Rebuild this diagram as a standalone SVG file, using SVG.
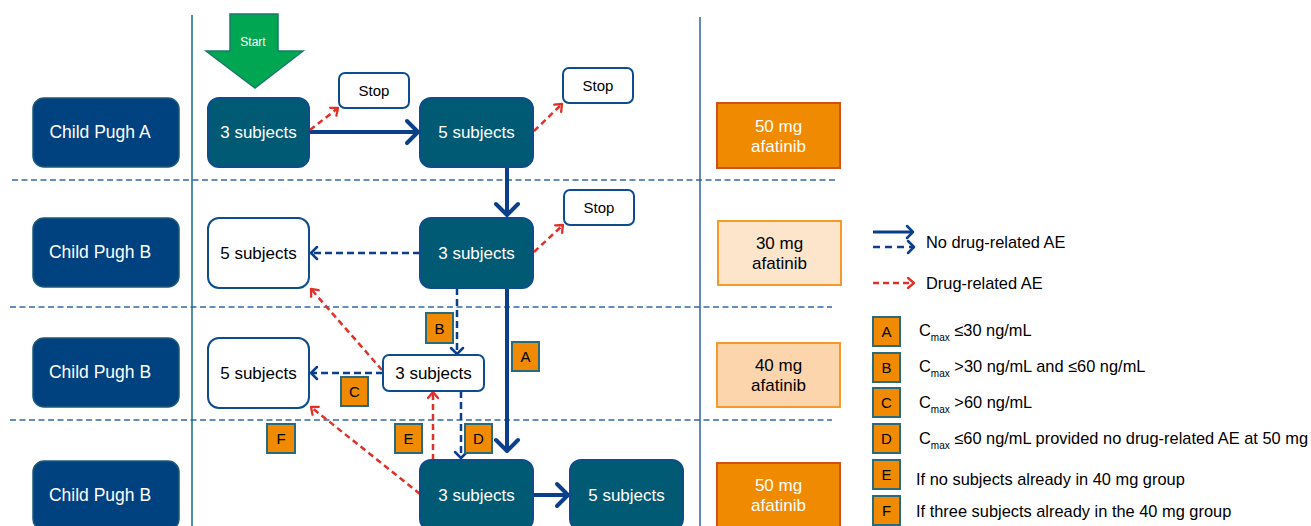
<svg xmlns="http://www.w3.org/2000/svg" width="1311" height="526" viewBox="0 0 1311 526">
<style>
text{font-family:"Liberation Sans",Arial,sans-serif}
.cp{fill:#00427f;stroke:#1d5a7a;stroke-width:1.5}
.dk{fill:#005a73;stroke:#0d4d8c;stroke-width:2}
.wh{fill:#fff;stroke:#0d4d8c;stroke-width:2}
.lbl{fill:#f08a00;stroke:#2a6a7a;stroke-width:2}
.tw{fill:#fff;font-size:17px;text-anchor:middle}
.cpt{fill:#fff;font-size:17.5px;text-anchor:middle}
.tb{fill:#000;font-size:17px;text-anchor:middle}
.ts{fill:#000;font-size:15px;text-anchor:middle}
.tl{fill:#000;font-size:15px;text-anchor:middle}
.lg{fill:#000;font-size:16.4px}
.sub{font-size:10px}
.sep{stroke:#3467a8;stroke-width:1.5;stroke-dasharray:6 3.5;fill:none}
.solid{stroke:#0b3f8a;stroke-width:4;fill:none;marker-end:url(#mS)}
.bdash{stroke:#0b3f8a;stroke-width:2.5;stroke-dasharray:7 4;fill:none;marker-end:url(#mB)}
.rdash{stroke:#e0302a;stroke-width:2.5;stroke-dasharray:6 4;fill:none;marker-end:url(#mR)}
</style>
<defs>
<marker id="mS" markerUnits="userSpaceOnUse" viewBox="-14 -13 16 26" refX="0" refY="0" markerWidth="16" markerHeight="26" orient="auto" overflow="visible">
<path d="M-11,-11 L0,0 L-11,11" fill="none" stroke="#0b3f8a" stroke-width="4" stroke-linecap="round" stroke-linejoin="round"/>
</marker>
<marker id="mB" markerUnits="userSpaceOnUse" viewBox="-8 -7 10 14" refX="0" refY="0" markerWidth="10" markerHeight="14" orient="auto" overflow="visible">
<path d="M-6,-6 L0,0 L-6,6" fill="none" stroke="#0b3f8a" stroke-width="2.5" stroke-linecap="round" stroke-linejoin="round"/>
</marker>
<marker id="mR" markerUnits="userSpaceOnUse" viewBox="-8 -7 10 14" refX="0" refY="0" markerWidth="10" markerHeight="14" orient="auto" overflow="visible">
<path d="M-6,-5 L0,0 L-6,5" fill="none" stroke="#e0302a" stroke-width="2.3" stroke-linecap="round" stroke-linejoin="round"/>
</marker>
</defs>
<rect width="1311" height="526" fill="#fff"/>

<g id="grid">
<line x1="192" y1="15" x2="192" y2="526" stroke="#4f8fa8" stroke-width="2"/>
<line x1="700" y1="17" x2="700" y2="526" stroke="#2e5fa0" stroke-width="1.5"/>
<line class="sep" x1="12" y1="180" x2="835" y2="180"/>
<line class="sep" x1="10" y1="307" x2="832" y2="307"/>
<line class="sep" x1="10" y1="420" x2="832" y2="420"/>
</g>

<g id="rowlabels">
<g id="cpA"><rect class="cp" x="33" y="98" width="146" height="69" rx="11"/><text class="cpt" x="100" y="138">Child Pugh A</text></g>
<g id="cpB1"><rect class="cp" x="33" y="218" width="146" height="69" rx="11"/><text class="cpt" x="100" y="258">Child Pugh B</text></g>
<g id="cpB2"><rect class="cp" x="33" y="338" width="146" height="69" rx="11"/><text class="cpt" x="100" y="378">Child Pugh B</text></g>
<g id="cpB3"><rect class="cp" x="33" y="461" width="146" height="69" rx="11"/><text class="cpt" x="100" y="501">Child Pugh B</text></g>
</g>

<g id="start"><polygon points="230,14 278,14 278,51 303,51 255,88 206,51 230,51" fill="#00a651" stroke="#1a7a6a" stroke-width="1.5"/><text x="253" y="46" fill="#fff" font-size="12" text-anchor="middle">Start</text></g>

<g id="connectors">
<line class="solid" x1="309" y1="132" x2="418" y2="132"/>
<line class="rdash" x1="310" y1="130" x2="338" y2="108"/>
<line class="rdash" x1="534" y1="131" x2="562" y2="104"/>
<line class="solid" x1="507" y1="167" x2="507" y2="215"/>
<line class="bdash" x1="420" y1="253" x2="311" y2="253"/>
<line class="rdash" x1="534" y1="252" x2="563" y2="225"/>
<line class="bdash" x1="457" y1="288" x2="457" y2="354"/>
<line class="solid" x1="507" y1="288" x2="507" y2="451"/>
<line class="rdash" x1="382" y1="370" x2="311" y2="289"/>
<line class="bdash" x1="383" y1="373" x2="311" y2="373"/>
<line class="bdash" x1="461" y1="391" x2="461" y2="458"/>
<line class="rdash" x1="433" y1="460" x2="433" y2="392"/>
<line class="rdash" x1="420" y1="494" x2="311" y2="407"/>
<line class="solid" x1="533" y1="495" x2="568" y2="495"/>
</g>

<g id="n1"><rect class="dk" x="208" y="98" width="101" height="69" rx="11"/><text class="tw" x="258.5" y="138">3 subjects</text></g>
<g id="n2"><rect class="dk" x="420" y="98" width="113" height="69" rx="11"/><text class="tw" x="476.5" y="138">5 subjects</text></g>
<g id="stop1"><rect class="wh" x="339" y="73" width="70" height="35" rx="6"/><text class="ts" x="374" y="96">Stop</text></g>
<g id="stop2"><rect class="wh" x="563" y="68" width="70" height="35" rx="6"/><text class="ts" x="598" y="91">Stop</text></g>
<g id="n3"><rect class="wh" x="208" y="218" width="101" height="70" rx="11"/><text class="tb" x="258.5" y="259">5 subjects</text></g>
<g id="n4"><rect class="dk" x="420" y="218" width="113" height="70" rx="11"/><text class="tw" x="476.5" y="259">3 subjects</text></g>
<g id="stop3"><rect class="wh" x="564" y="190" width="70" height="35" rx="6"/><text class="ts" x="599" y="213">Stop</text></g>
<g id="n5"><rect class="wh" x="208" y="338" width="101" height="70" rx="11"/><text class="tb" x="258.5" y="379">5 subjects</text></g>
<g id="n6"><rect class="wh" x="383" y="355" width="101" height="36" rx="6"/><text class="tb" x="433.5" y="379">3 subjects</text></g>
<g id="n7"><rect class="dk" x="420" y="460" width="113" height="70" rx="11"/><text class="tw" x="476.5" y="501">3 subjects</text></g>
<g id="n8"><rect class="dk" x="570" y="460" width="113" height="70" rx="11"/><text class="tw" x="626.5" y="501">5 subjects</text></g>

<g id="labels">
<g id="lA"><rect class="lbl" x="512" y="342" width="27" height="29"/><text class="tl" x="525.5" y="362">A</text></g>
<g id="lB"><rect class="lbl" x="426" y="313" width="27" height="30"/><text class="tl" x="439.5" y="334">B</text></g>
<g id="lC"><rect class="lbl" x="341" y="377" width="27" height="29"/><text class="tl" x="354.5" y="397">C</text></g>
<g id="lD"><rect class="lbl" x="465" y="424" width="27" height="29"/><text class="tl" x="478.5" y="444">D</text></g>
<g id="lE"><rect class="lbl" x="395" y="424" width="27" height="29"/><text class="tl" x="408.5" y="444">E</text></g>
<g id="lF"><rect class="lbl" x="267" y="424" width="28" height="29"/><text class="tl" x="281" y="444">F</text></g>
</g>

<g id="doses">
<g id="d1"><rect x="717" y="103" width="123" height="65" fill="#f08a00" stroke="#d0501a" stroke-width="2"/><text class="tw" x="778.5" y="132">50 mg</text><text class="tw" x="778.5" y="152">afatinib</text></g>
<g id="d2"><rect x="718" y="221" width="123" height="64" fill="#fde5cc" stroke="#f39a2a" stroke-width="2"/><text class="tb" x="779.5" y="249">30 mg</text><text class="tb" x="779.5" y="269">afatinib</text></g>
<g id="d3"><rect x="717" y="343" width="123" height="64" fill="#fdd5ad" stroke="#f39a2a" stroke-width="2"/><text class="tb" x="778.5" y="371">40 mg</text><text class="tb" x="778.5" y="391">afatinib</text></g>
<g id="d4"><rect x="717" y="463" width="123" height="65" fill="#f08a00" stroke="#d0501a" stroke-width="2"/><text class="tw" x="778.5" y="491">50 mg</text><text class="tw" x="778.5" y="511">afatinib</text></g>
</g>

<g id="legend">
<line x1="873" y1="232" x2="913" y2="232" stroke="#0b3f8a" stroke-width="3" marker-end="url(#mB)"/>
<line class="bdash" x1="873" y1="247" x2="914" y2="247" style="stroke-dasharray:7 5"/>
<text class="lg" x="926" y="248">No drug-related AE</text>
<line class="rdash" x1="873" y1="283" x2="914" y2="283"/>
<text class="lg" x="926" y="289">Drug-related AE</text>
<g><rect class="lbl" x="873" y="317" width="27" height="29"/><text class="tl" x="886.5" y="337">A</text><text class="lg" x="919" y="336">C<tspan class="sub" dy="5">max</tspan><tspan dy="-5"> ≤30 ng/mL</tspan></text></g>
<g><rect class="lbl" x="873" y="353" width="27" height="29"/><text class="tl" x="886.5" y="373">B</text><text class="lg" x="919" y="372">C<tspan class="sub" dy="5">max</tspan><tspan dy="-5"> &gt;30 ng/mL and ≤60 ng/mL</tspan></text></g>
<g><rect class="lbl" x="873" y="388" width="27" height="29"/><text class="tl" x="886.5" y="408">C</text><text class="lg" x="919" y="408">C<tspan class="sub" dy="5">max</tspan><tspan dy="-5"> &gt;60 ng/mL</tspan></text></g>
<g><rect class="lbl" x="873" y="424" width="27" height="29"/><text class="tl" x="886.5" y="444">D</text><text class="lg" x="919" y="444">C<tspan class="sub" dy="5">max</tspan><tspan dy="-5"> ≤60 ng/mL provided no drug-related AE at 50 mg</tspan></text></g>
<g><rect class="lbl" x="873" y="460" width="27" height="29"/><text class="tl" x="886.5" y="480">E</text><text class="lg" x="916" y="485">If no subjects already in 40 mg group</text></g>
<g><rect class="lbl" x="873" y="496" width="27" height="29"/><text class="tl" x="886.5" y="516">F</text><text class="lg" x="916" y="517">If three subjects already in the 40 mg group</text></g>
</g>
</svg>
